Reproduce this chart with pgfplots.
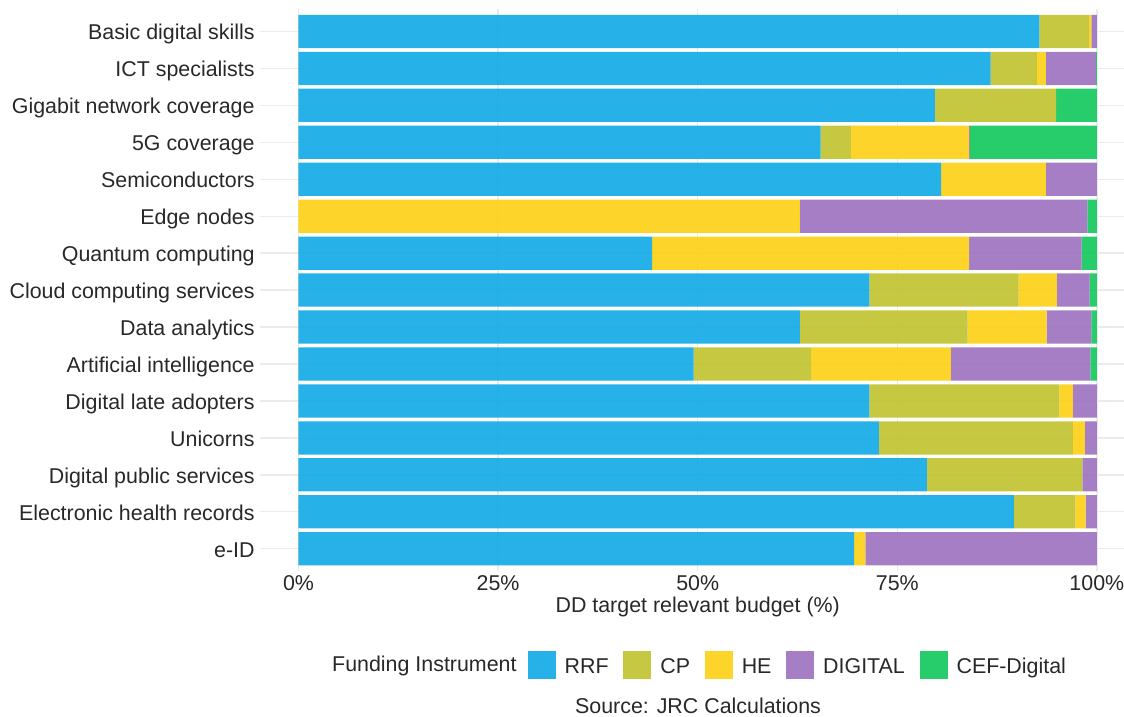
\documentclass[border=0pt]{standalone}
\usepackage{pgfplots}
\pgfplotsset{compat=1.18}
\usepackage{pgfplotstable}
\usepackage{fontspec}
\setmainfont{Liberation Sans}
\definecolor{cRRF}{RGB}{14,170,230}
\definecolor{cCP}{RGB}{192,194,45}
\definecolor{cHE}{RGB}{253,208,19}
\definecolor{cDIG}{RGB}{155,112,192}
\definecolor{cCEF}{RGB}{15,200,90}
\definecolor{gridc}{RGB}{235,235,235}
\definecolor{txt}{RGB}{40,40,40}
\newcommand{\chartfont}{\fontsize{10.7}{12.8}\selectfont}

\pgfplotstableread{
pos RRF CP HE DIG CEF
1  69.6 0    1.4  29.0 0
2  89.6 7.7  1.3  1.4  0
3  78.7 19.5 0    1.8  0
4  72.7 24.3 1.5  1.5  0
5  71.5 23.8 1.7  3.0  0
6  49.5 14.7 17.5 17.5 0.8
7  62.8 21.0 9.9  5.6  0.7
8  71.5 18.7 4.8  4.1  0.9
9  44.3 0    39.7 14.1 1.9
10 0    0    62.8 36.0 1.2
11 80.5 0    13.1 6.4  0
12 65.4 3.8  14.8 0.1  15.9
13 79.7 15.2 0    0    5.1
14 86.7 5.8  1.1  6.3  0.1
15 92.8 6.2  0.3  0.7  0
}\datatable

\begin{document}
\begin{tikzpicture}
\useasboundingbox (0,0) rectangle (562pt,358.5pt);
\begin{axis}[
  at={(130pt,73.05pt)}, anchor=south west,
  scale only axis, width=432pt, height=280.8pt,
  xbar stacked, bar width=16.62pt,
  xmin=-4.82, xmax=103.4, ymin=0.4, ymax=15.6,
  axis line style={draw=none}, major tick length=0pt,
  xmajorgrids, ymajorgrids,
  grid style={gridc, line width=0.7pt},
  xtick={0,25,50,75,100},
  xticklabels={0\%,25\%,50\%,75\%,100\%},
  ytick={1,...,15},
  yticklabels={e-ID,Electronic health records,Digital public services,Unicorns,Digital late adopters,Artificial intelligence,Data analytics,Cloud computing services,Quantum computing,Edge nodes,Semiconductors,5G coverage,Gigabit network coverage,ICT specialists,Basic digital skills},
  tick label style={font=\chartfont, text=txt, inner sep=0pt},
  xticklabel style={anchor=base, yshift=-9.8pt},
  yticklabel style={anchor=base east, xshift=-2.5pt, yshift=-4.25pt},
  legend columns=-1,
  legend style={at={(axis description cs:0.3098,-0.1667)}, anchor=west, draw=none, fill=none,
    inner sep=0pt, outer sep=0pt, font=\chartfont, text=txt,
    nodes={inner sep=0pt},
    /tikz/every odd column/.append style={column sep=4.5pt},
    /tikz/every even column/.append style={column sep=7.35pt}},
  legend image code/.code={\fill[#1] (0pt,-5.4pt) rectangle (14pt,8.6pt);},
]
\addplot[fill=cRRF, fill opacity=0.9, draw=none] table[x=RRF, y=pos]{\datatable};
\addlegendentry{RRF}
\addplot[fill=cCP, fill opacity=0.9, draw=none] table[x=CP, y=pos]{\datatable};
\addlegendentry{CP}
\addplot[fill=cHE, fill opacity=0.9, draw=none] table[x=HE, y=pos]{\datatable};
\addlegendentry{HE}
\addplot[fill=cDIG, fill opacity=0.9, draw=none] table[x=DIG, y=pos]{\datatable};
\addlegendentry{DIGITAL}
\addplot[fill=cCEF, fill opacity=0.9, draw=none] table[x=CEF, y=pos]{\datatable};
\addlegendentry{CEF-Digital}
\end{axis}
\node[anchor=base, font=\chartfont, text=txt, inner sep=0pt] at (348.85pt,52pt) {DD target relevant budget (\%)};
\node[anchor=base east, font=\chartfont, text=txt, inner sep=0pt] at (258.5pt,22.65pt) {Funding Instrument};
\node[anchor=base, font=\chartfont, text=txt, inner sep=0pt] at (349pt,1.5pt) {Source: JRC Calculations};
\end{tikzpicture}
\end{document}
